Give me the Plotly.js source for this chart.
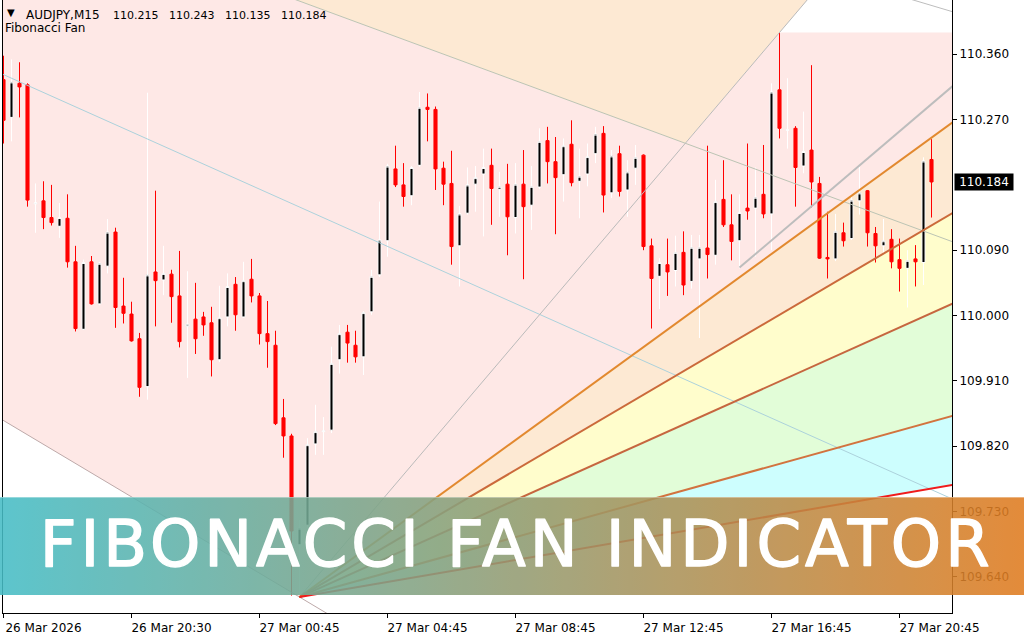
<!DOCTYPE html>
<html>
<head>
<meta charset="utf-8">
<script src="https://cdn.plot.ly/plotly-3.0.1.min.js"></script>
<style>
  html, body { margin: 0; padding: 0; background: #ffffff; }
  #chart { width: 1024px; height: 640px; }
</style>
</head>
<body>
<div id="chart"></div>
<script>
// ---- Quote data: AUDJPY, 15-minute bars (index 0 = first visible bar) ----
const symbolLabel = 'AUDJPY,M15';
const indicatorLabel = 'Fibonacci Fan';
const bannerTitle = 'FIBONACCI FAN INDICATOR';

const open = [
  110.325, 110.273, 110.320, 110.318, 110.154, 110.158, 110.135, 110.123, 110.134, 110.074,
  109.981, 110.074, 110.016, 110.068, 110.115, 110.013, 110.002, 109.968, 109.902, 110.060,
  110.049, 110.057, 110.027, 109.985, 109.995, 109.998, 109.990, 109.939, 109.998, 110.043,
  109.998, 110.050, 110.027, 109.975, 109.959, 109.859, 109.834, 109.684, 109.711, 109.823,
  109.840, 109.842, 109.939, 109.977, 109.959, 109.943, 110.005, 110.056, 110.103, 110.202,
  110.180, 110.165, 110.207, 110.287, 110.284, 110.203, 110.182, 110.096, 110.141, 110.181,
  110.195, 110.207, 110.174, 110.181, 110.135, 110.181, 110.152, 110.177, 110.241, 110.212,
  110.194, 110.236, 110.185, 110.195, 110.223, 110.251, 110.169, 110.223, 110.173, 110.203,
  110.221, 110.096, 110.054, 110.070, 110.062, 110.087, 110.047, 110.078, 110.093, 110.083,
  110.160, 110.125, 110.103, 110.148, 110.148, 110.167, 110.140, 110.311, 110.255, 110.258,
  110.206, 110.228, 110.182, 110.080, 110.078, 110.114, 110.106, 110.158, 110.172, 110.113,
  110.096, 110.105, 110.077, 110.065, 110.078, 110.073, 110.215
];
const high = [
  110.358, 110.353, 110.349, 110.320, 110.182, 110.185, 110.180, 110.155, 110.167, 110.096,
  110.077, 110.082, 110.074, 110.133, 110.121, 110.052, 110.019, 109.976, 110.307, 110.172,
  110.096, 110.063, 110.089, 110.061, 110.045, 110.005, 110.012, 110.041, 110.058, 110.053,
  110.074, 110.078, 110.031, 110.020, 109.979, 109.885, 109.837, 109.718, 109.831, 109.877,
  109.860, 109.957, 109.987, 109.987, 109.979, 110.006, 110.063, 110.157, 110.209, 110.234,
  110.210, 110.206, 110.308, 110.306, 110.288, 110.212, 110.227, 110.151, 110.204, 110.206,
  110.230, 110.230, 110.198, 110.209, 110.210, 110.228, 110.206, 110.258, 110.260, 110.246,
  110.244, 110.269, 110.230, 110.237, 110.260, 110.261, 110.228, 110.234, 110.214, 110.235,
  110.222, 110.106, 110.079, 110.106, 110.110, 110.116, 110.111, 110.111, 110.234, 110.187,
  110.214, 110.167, 110.167, 110.237, 110.204, 110.235, 110.320, 110.390, 110.327, 110.261,
  110.281, 110.345, 110.191, 110.143, 110.140, 110.128, 110.165, 110.205, 110.173, 110.122,
  110.133, 110.119, 110.106, 110.090, 110.097, 110.218, 110.243
];
const low = [
  110.237, 110.240, 110.273, 110.150, 110.114, 110.119, 110.124, 110.107, 110.066, 109.978,
  109.980, 110.015, 110.014, 110.058, 109.983, 109.989, 109.964, 109.888, 109.884, 109.985,
  110.028, 109.990, 109.956, 109.914, 109.947, 109.972, 109.916, 109.936, 109.985, 109.979,
  109.997, 110.018, 109.960, 109.928, 109.849, 109.804, 109.614, 109.612, 109.707, 109.808,
  109.808, 109.838, 109.920, 109.935, 109.935, 109.918, 110.001, 110.053, 110.081, 110.177,
  110.150, 110.152, 110.205, 110.240, 110.173, 110.152, 110.070, 110.040, 110.139, 110.143,
  110.109, 110.125, 110.136, 110.083, 110.113, 110.050, 110.118, 110.174, 110.182, 110.112,
  110.157, 110.178, 110.134, 110.178, 110.210, 110.142, 110.162, 110.164, 110.136, 110.180,
  110.090, 109.982, 110.009, 110.027, 110.040, 110.028, 110.037, 109.969, 110.051, 110.070,
  110.122, 110.076, 110.065, 110.132, 110.081, 110.134, 110.090, 110.244, 110.230, 110.150,
  110.196, 110.149, 110.078, 110.051, 110.075, 110.095, 110.104, 110.139, 110.095, 110.073,
  110.086, 110.065, 110.033, 110.011, 110.040, 110.042, 110.135
];
const close = [
  110.269, 110.322, 110.315, 110.159, 110.155, 110.135, 110.128, 110.135, 110.074, 109.982,
  110.073, 110.016, 110.072, 110.115, 110.011, 110.003, 109.965, 109.901, 110.056, 110.048,
  110.058, 110.026, 109.964, 109.988, 109.968, 109.987, 109.939, 109.997, 110.040, 110.001,
  110.048, 110.027, 109.975, 109.964, 109.851, 109.834, 109.703, 109.707, 109.822, 109.840,
  109.841, 109.934, 109.975, 109.962, 109.943, 110.004, 110.054, 110.104, 110.206, 110.180,
  110.164, 110.204, 110.287, 110.284, 110.202, 110.181, 110.095, 110.140, 110.180, 110.190,
  110.204, 110.175, 110.178, 110.136, 110.181, 110.150, 110.178, 110.240, 110.212, 110.190,
  110.234, 110.183, 110.192, 110.219, 110.250, 110.166, 110.220, 110.171, 110.198, 110.218,
  110.095, 110.051, 110.073, 110.060, 110.087, 110.042, 110.094, 110.094, 110.084, 110.157,
  110.125, 110.102, 110.142, 110.144, 110.163, 110.140, 110.308, 110.258, 110.256, 110.204,
  110.226, 110.184, 110.079, 110.078, 110.116, 110.103, 110.159, 110.169, 110.114, 110.096,
  110.103, 110.074, 110.065, 110.076, 110.074, 110.213, 110.184
];

// Time axis labels (bar index -> label)
const timeTickBars = [0, 16, 32, 48, 64, 80, 96, 112];
const timeTickLabels = ['26 Mar 2026', '26 Mar 20:30', '27 Mar 00:45', '27 Mar 04:45',
                        '27 Mar 08:45', '27 Mar 12:45', '27 Mar 16:45', '27 Mar 20:45'];
// Price scale labels
const priceTicks = [109.640, 109.730, 109.820, 109.910, 110.000, 110.090, 110.270, 110.360];

// Rising fan: anchored on the low of bar 37 and the high of bar 97
const upFanBars = [37, 97];
const upFanLevels = [0, 0.382, 0.5, 0.618, 0.764, 0.854];
const upFanLineColors = ['#bababa', '#e2892f', '#cb6a3b', '#c6663f', '#d2733f', '#f01c1c'];
const upFanLineWidths = [1, 2, 2, 2, 2, 2];
const upFanBandColors = ['#fde9d3', '#fffdcc', '#e2fdd8', '#cdfefe'];

// Falling fan: from an earlier high (left of the window) down to the same low
const downFanStart = [-290, 111.762];
const downFanLevels = [0, 0.25, 0.382, 0.5];
const downFanLineColors = ['#bda9a9', '#acd2dc', '#bcc4b4', '#bdbdbd'];

// Grey trend segment on the right
const trendBars = [92, 120];
const trendPrices = [110.066, 110.329];

// Fill colours of the fan zones
const zoneMain = '#fee8e6';
const zoneTop = '#fde9d3';

// ---- Geometry helpers (bar/price space) ----
function fanRay(start, ref, level) {
  const target = ref.p + level * (start.p - ref.p);
  return { x0: start.x, p0: start.p, slope: (target - start.p) / (ref.x - start.x) };
}
const priceOn = (r, x) => r.p0 + r.slope * (x - r.x0);
const barOn = (r, p) => r.x0 + (p - r.p0) / r.slope;
function crossing(a, b) {
  const x = (b.p0 - a.p0 + a.slope * a.x0 - b.slope * b.x0) / (a.slope - b.slope);
  return [x, priceOn(a, x)];
}
const pathOf = pts => pts.map((p, i) => (i ? 'L' : 'M') + p[0] + ',' + p[1]).join(' ') + ' Z';

const N = open.length;
const bars = open.map((_, i) => i);
const last = N - 1;

const X_RANGE = [-0.0625, 118.5625];
const Y_RANGE = [109.590, 110.4348];
const FAR_L = -20, FAR_R = 140, FAR_TOP = 110.7;

const fanLow = { x: upFanBars[0], p: low[upFanBars[0]] };
const fanHigh = { x: upFanBars[1], p: high[upFanBars[1]] };
const upRays = upFanLevels.map(L => fanRay(fanLow, fanHigh, L));
const downOrigin = { x: downFanStart[0], p: downFanStart[1] };
const downRays = downFanLevels.map(L => fanRay(downOrigin, fanLow, L));

// ---- Zones ----
const rBase = upRays[0], r382 = upRays[1];
const dBase = downRays[0], d382 = downRays[2];
const meet = crossing(rBase, d382);

const shapes = [];
shapes.push({
  type: 'path', xref: 'x', yref: 'y', layer: 'below', line: { width: 0 }, fillcolor: zoneMain,
  path: pathOf([[FAR_L, priceOn(dBase, FAR_L)], [fanLow.x, fanLow.p], [FAR_R, priceOn(r382, FAR_R)],
                [FAR_R, fanHigh.p], [fanHigh.x, fanHigh.p], meet,
                [barOn(d382, FAR_TOP), FAR_TOP], [FAR_L, FAR_TOP]])
});
shapes.push({
  type: 'path', xref: 'x', yref: 'y', layer: 'below', line: { width: 0 }, fillcolor: zoneTop,
  path: pathOf([meet, [barOn(rBase, FAR_TOP), FAR_TOP], [barOn(d382, FAR_TOP), FAR_TOP]])
});
upFanBandColors.forEach((c, k) => {
  shapes.push({
    type: 'path', xref: 'x', yref: 'y', layer: 'below', line: { width: 0 }, fillcolor: c,
    path: pathOf([[fanLow.x, fanLow.p], [FAR_R, priceOn(upRays[k + 1], FAR_R)],
                  [FAR_R, priceOn(upRays[k + 2], FAR_R)]])
  });
});

// ---- Traces ----
const traces = [];
traces.push({
  type: 'candlestick', x: bars, open: open, high: high, low: low, close: close,
  increasing: { line: { color: '#ffffff', width: 1 }, fillcolor: '#000000' },
  decreasing: { line: { color: '#ff0000', width: 1 }, fillcolor: '#ff0000' },
  whiskerwidth: 0, hoverinfo: 'skip', showlegend: false
});
downRays.forEach((r, k) => {
  traces.push({ type: 'scatter', mode: 'lines', x: [r.x0, FAR_R], y: [r.p0, priceOn(r, FAR_R)],
    line: { color: downFanLineColors[k], width: 1 }, hoverinfo: 'skip', showlegend: false });
});
traces.push({ type: 'scatter', mode: 'lines', x: trendBars, y: trendPrices,
  line: { color: '#bdbdbd', width: 2 }, hoverinfo: 'skip', showlegend: false });
upRays.forEach((r, k) => {
  traces.push({ type: 'scatter', mode: 'lines', x: [r.x0, FAR_R], y: [r.p0, priceOn(r, FAR_R)],
    line: { color: upFanLineColors[k], width: upFanLineWidths[k] }, hoverinfo: 'skip', showlegend: false });
});

// ---- Header, price label and banner ----
const PLOT_LEFT = 3, PLOT_W = 949, PLOT_H = 613;
const lastBarText = [open[last], high[last], low[last], close[last]]
  .map(v => v.toFixed(3)).join('\u00a0\u00a0\u00a0');

function pixelNote(text, left, top, size, extra) {
  return Object.assign({
    text: text, showarrow: false, xref: 'paper', yref: 'paper', x: 0, y: 1,
    xanchor: 'left', yanchor: 'top', xshift: left - PLOT_LEFT, yshift: -top,
    font: { family: 'DejaVu Sans', size: size, color: '#000000' }, borderpad: 1
  }, extra || {});
}

const annotations = [
  pixelNote('\u25BC', 5, 5, 10),
  pixelNote(symbolLabel, 24, 6, 12),
  pixelNote(lastBarText, 111, 7, 11),
  pixelNote(indicatorLabel, 3, 18.5, 12),
  {
    text: close[last].toFixed(3), showarrow: false, xref: 'paper', yref: 'y', x: 1, y: close[last],
    xanchor: 'left', yanchor: 'middle', xshift: 2, width: 58, height: 16, borderpad: 0,
    bgcolor: '#000000', font: { family: 'DejaVu Sans', size: 12, color: '#ffffff' }
  },
  {
    text: bannerTitle, showarrow: false, xref: 'paper', yref: 'paper', x: 0, y: 1,
    xanchor: 'center', yanchor: 'top', xshift: 514.5 - PLOT_LEFT, yshift: -505,
    font: { family: 'DejaVu Sans', size: 64, color: '#ffffff' }, borderpad: 1
  }
];

const bannerSvg =
  '<svg xmlns="http://www.w3.org/2000/svg" width="1024" height="98" viewBox="0 0 1024 98" preserveAspectRatio="none">' +
  '<defs><linearGradient id="g" x1="0" y1="0" x2="1" y2="0">' +
  '<stop offset="0" stop-color="rgb(70,189,198)"/><stop offset="1" stop-color="rgb(224,124,32)"/>' +
  '</linearGradient></defs>' +
  '<rect x="0" y="0" width="1024" height="98" fill="url(#g)"/>' +
  '<rect x="0" y="0" width="1024" height="1" fill="#ffffff" fill-opacity="0.35"/></svg>';

const layout = {
  width: 1024, height: 640,
  margin: { l: 3, r: 72, t: 0, b: 27, pad: 0 },
  paper_bgcolor: '#ffffff', plot_bgcolor: '#ffffff',
  showlegend: false, hovermode: false, dragmode: false,
  boxgap: 0.45,
  font: { family: 'DejaVu Sans', size: 12, color: '#000000' },
  xaxis: {
    range: X_RANGE, fixedrange: true, rangeslider: { visible: false },
    showgrid: false, zeroline: false, showline: true, linecolor: '#000000', linewidth: 1,
    tickmode: 'array', tickvals: timeTickBars, ticktext: timeTickLabels,
    ticks: 'outside', ticklen: 4, tickwidth: 1, tickcolor: '#000000',
    ticklabelshift: 40, ticklabelstandoff: 0,
    tickfont: { family: 'DejaVu Sans', size: 12, color: '#000000' }
  },
  yaxis: {
    range: Y_RANGE, fixedrange: true, side: 'right',
    showgrid: false, zeroline: false, showline: true, mirror: true, linecolor: '#000000', linewidth: 1,
    tickmode: 'array', tickvals: priceTicks, ticktext: priceTicks.map(v => v.toFixed(3)),
    ticks: 'outside', ticklen: 4, tickwidth: 1, tickcolor: '#000000',
    tickfont: { family: 'DejaVu Sans', size: 12, color: '#000000' }
  },
  shapes: shapes,
  annotations: annotations,
  images: [{
    source: 'data:image/svg+xml;charset=utf-8,' + encodeURIComponent(bannerSvg),
    xref: 'paper', yref: 'paper', xanchor: 'left', yanchor: 'top',
    x: -PLOT_LEFT / PLOT_W, y: 1 - 497 / PLOT_H, sizex: 1024 / PLOT_W, sizey: 98 / PLOT_H,
    sizing: 'stretch', opacity: 0.88, layer: 'above'
  }]
};

Plotly.newPlot('chart', traces, layout, { staticPlot: true, displayModeBar: false }).then(gd => {
  // stretch the banner caption across the band and give it a slightly heavier stroke
  gd.querySelectorAll('.annotation-text').forEach(t => {
    if (t.textContent === bannerTitle) {
      t.setAttribute('textLength', '950');
      t.setAttribute('lengthAdjust', 'spacing');
      t.style.stroke = '#ffffff';
      t.style.strokeWidth = '1.4px';
      t.style.strokeLinejoin = 'round';
    }
  });
});
</script>
</body>
</html>
